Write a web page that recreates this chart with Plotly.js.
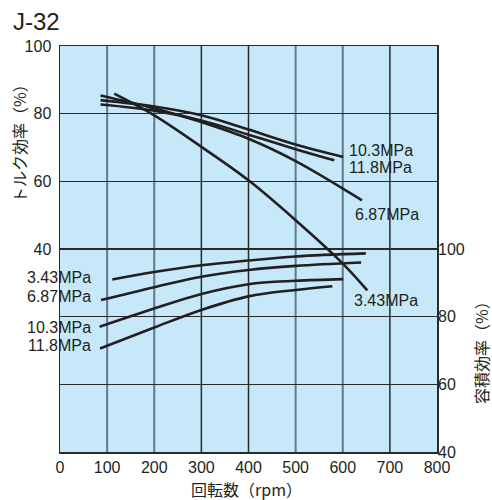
<!DOCTYPE html>
<html><head><meta charset="utf-8">
<script src="https://cdn.plot.ly/plotly-3.0.1.min.js"></script>
<style>html,body{margin:0;padding:0;background:#fff;}#chart{width:492px;height:500px;}</style>
</head><body><div id="chart"></div>
<script>
// Torque efficiency (left axis, %)
const tq343_x = [115, 200, 300, 400, 500, 600, 652];
const tq343_y = [85.9, 79.5, 70.2, 60.3, 48.5, 35.7, 27.8];
const tq687_x = [86, 200, 300, 400, 500, 641];
const tq687_y = [85.4, 81.6, 77.5, 72.6, 66.0, 54.4];
const tq103_x = [86, 200, 300, 400, 500, 601];
const tq103_y = [84.0, 82.1, 79.5, 75.3, 70.9, 67.2];
const tq118_x = [86, 200, 300, 400, 500, 582];
const tq118_y = [82.7, 80.9, 78.0, 73.8, 69.5, 66.2];
// Volumetric efficiency (right axis, %)
const vo343_x = [111, 200, 300, 400, 500, 649];
const vo343_y = [91.0, 93.2, 95.2, 96.6, 97.8, 98.7];
const vo687_x = [87, 200, 300, 400, 500, 639];
const vo687_y = [84.9, 88.7, 91.8, 93.8, 95.0, 96.0];
const vo103_x = [84, 200, 300, 400, 500, 601];
const vo103_y = [77.0, 82.4, 86.7, 89.6, 90.6, 91.1];
const vo118_x = [85, 200, 300, 400, 500, 578];
const vo118_y = [70.6, 76.8, 82.0, 86.0, 87.9, 89.0];

const xTicks = [0, 100, 200, 300, 400, 500, 600, 700, 800];
const yLeftTicks = [0, 20, 40, 60, 80, 100];
const yLeftText = ['', '', '40', '60', '80', '100'];
const yRightTicks = [40, 60, 80, 100];
const gridGray = [100, 200, 500, 600];

const lineStyle = {color: '#231f20', width: 2.6, shape: 'spline', smoothing: 1};
function tr(x, y, axis) {
  return {x: x, y: y, yaxis: axis, type: 'scatter', mode: 'lines', line: lineStyle, hoverinfo: 'skip', showlegend: false};
}
const data = [
  tr(tq343_x, tq343_y, 'y'), tr(tq687_x, tq687_y, 'y'), tr(tq103_x, tq103_y, 'y'), tr(tq118_x, tq118_y, 'y'),
  tr(vo343_x, vo343_y, 'y2'), tr(vo687_x, vo687_y, 'y2'), tr(vo103_x, vo103_y, 'y2'), tr(vo118_x, vo118_y, 'y2')
];

const shapes = [];
xTicks.slice(1, -1).forEach(v => {
  const gray = gridGray.indexOf(v) >= 0;
  shapes.push({type: 'line', xref: 'x', yref: 'paper', x0: v, x1: v, y0: 0, y1: 1, layer: 'below',
    line: {color: gray ? '#62798a' : '#2a2a2a', width: gray ? 2 : 1.5}});
});

const F = 'Liberation Sans, Arial, sans-serif';
const ann = (text, x, y, xanchor) => ({text: text, x: x, y: y, xref: 'paper', yref: 'paper', xanchor: xanchor, yanchor: 'middle', showarrow: false, font: {family: F, size: 16, color: '#231f20'}});
function px(xp) { return (xp - 60) / (437 - 60); }
function py(yp) { return (452 - yp) / (452 - 46); }
const annotations = [
  ann('10.3MPa', px(347), py(150), 'left'),
  ann('11.8MPa', px(347), py(167), 'left'),
  ann('6.87MPa', px(353), py(214), 'left'),
  ann('3.43MPa', px(352), py(300), 'left'),
  ann('3.43MPa', px(93), py(277), 'right'),
  ann('6.87MPa', px(93), py(296), 'right'),
  ann('10.3MPa', px(93), py(327), 'right'),
  ann('11.8MPa', px(93), py(345), 'right'),
  {text: 'J-32', x: px(11), y: py(21), xref: 'paper', yref: 'paper', xanchor: 'left', yanchor: 'middle', showarrow: false, font: {family: F, size: 24, color: '#231f20'}},
  {text: 'トルク効率（%）', x: px(19), y: py(140), xref: 'paper', yref: 'paper', xanchor: 'center', yanchor: 'middle', textangle: -90, showarrow: false, font: {family: 'Noto Sans CJK JP, sans-serif', size: 16, color: '#231f20'}},
  {text: '容積効率（%）', x: px(481), y: py(348), xref: 'paper', yref: 'paper', xanchor: 'center', yanchor: 'middle', textangle: -90, showarrow: false, font: {family: 'Noto Sans CJK JP, sans-serif', size: 16, color: '#231f20'}},
  {text: '回転数（rpm）', x: px(246), y: py(489), xref: 'paper', yref: 'paper', xanchor: 'center', yanchor: 'middle', showarrow: false, font: {family: 'Noto Sans CJK JP, sans-serif', size: 16, color: '#231f20'}}
];

const layout = {
  width: 492, height: 500,
  margin: {l: 60, r: 55, t: 46, b: 48, pad: 0},
  paper_bgcolor: '#ffffff', plot_bgcolor: '#c6e8f8',
  xaxis: {range: [0, 800], tickvals: xTicks, showgrid: false, zeroline: false, showline: true, mirror: true, linecolor: '#2a2a2a', linewidth: 1.5, ticks: '', tickfont: {family: F, size: 16, color: '#231f20'}, fixedrange: true},
  yaxis: {range: [-20, 100], tickvals: yLeftTicks, ticktext: yLeftText, showgrid: true, gridcolor: '#2a2a2a', gridwidth: 1.5, zeroline: false, showline: true, mirror: true, linecolor: '#2a2a2a', linewidth: 1.5, ticks: '', ticklabelstandoff: 4, tickfont: {family: F, size: 16, color: '#231f20'}, fixedrange: true},
  yaxis2: {range: [40, 160], tickvals: yRightTicks, overlaying: 'y', side: 'right', showgrid: false, zeroline: false, showline: false, ticks: '', tickfont: {family: F, size: 16, color: '#231f20'}, fixedrange: true},
  shapes: shapes,
  annotations: annotations,
  showlegend: false
};
Plotly.newPlot('chart', data, layout, {displayModeBar: false, staticPlot: true});
</script></body></html>
